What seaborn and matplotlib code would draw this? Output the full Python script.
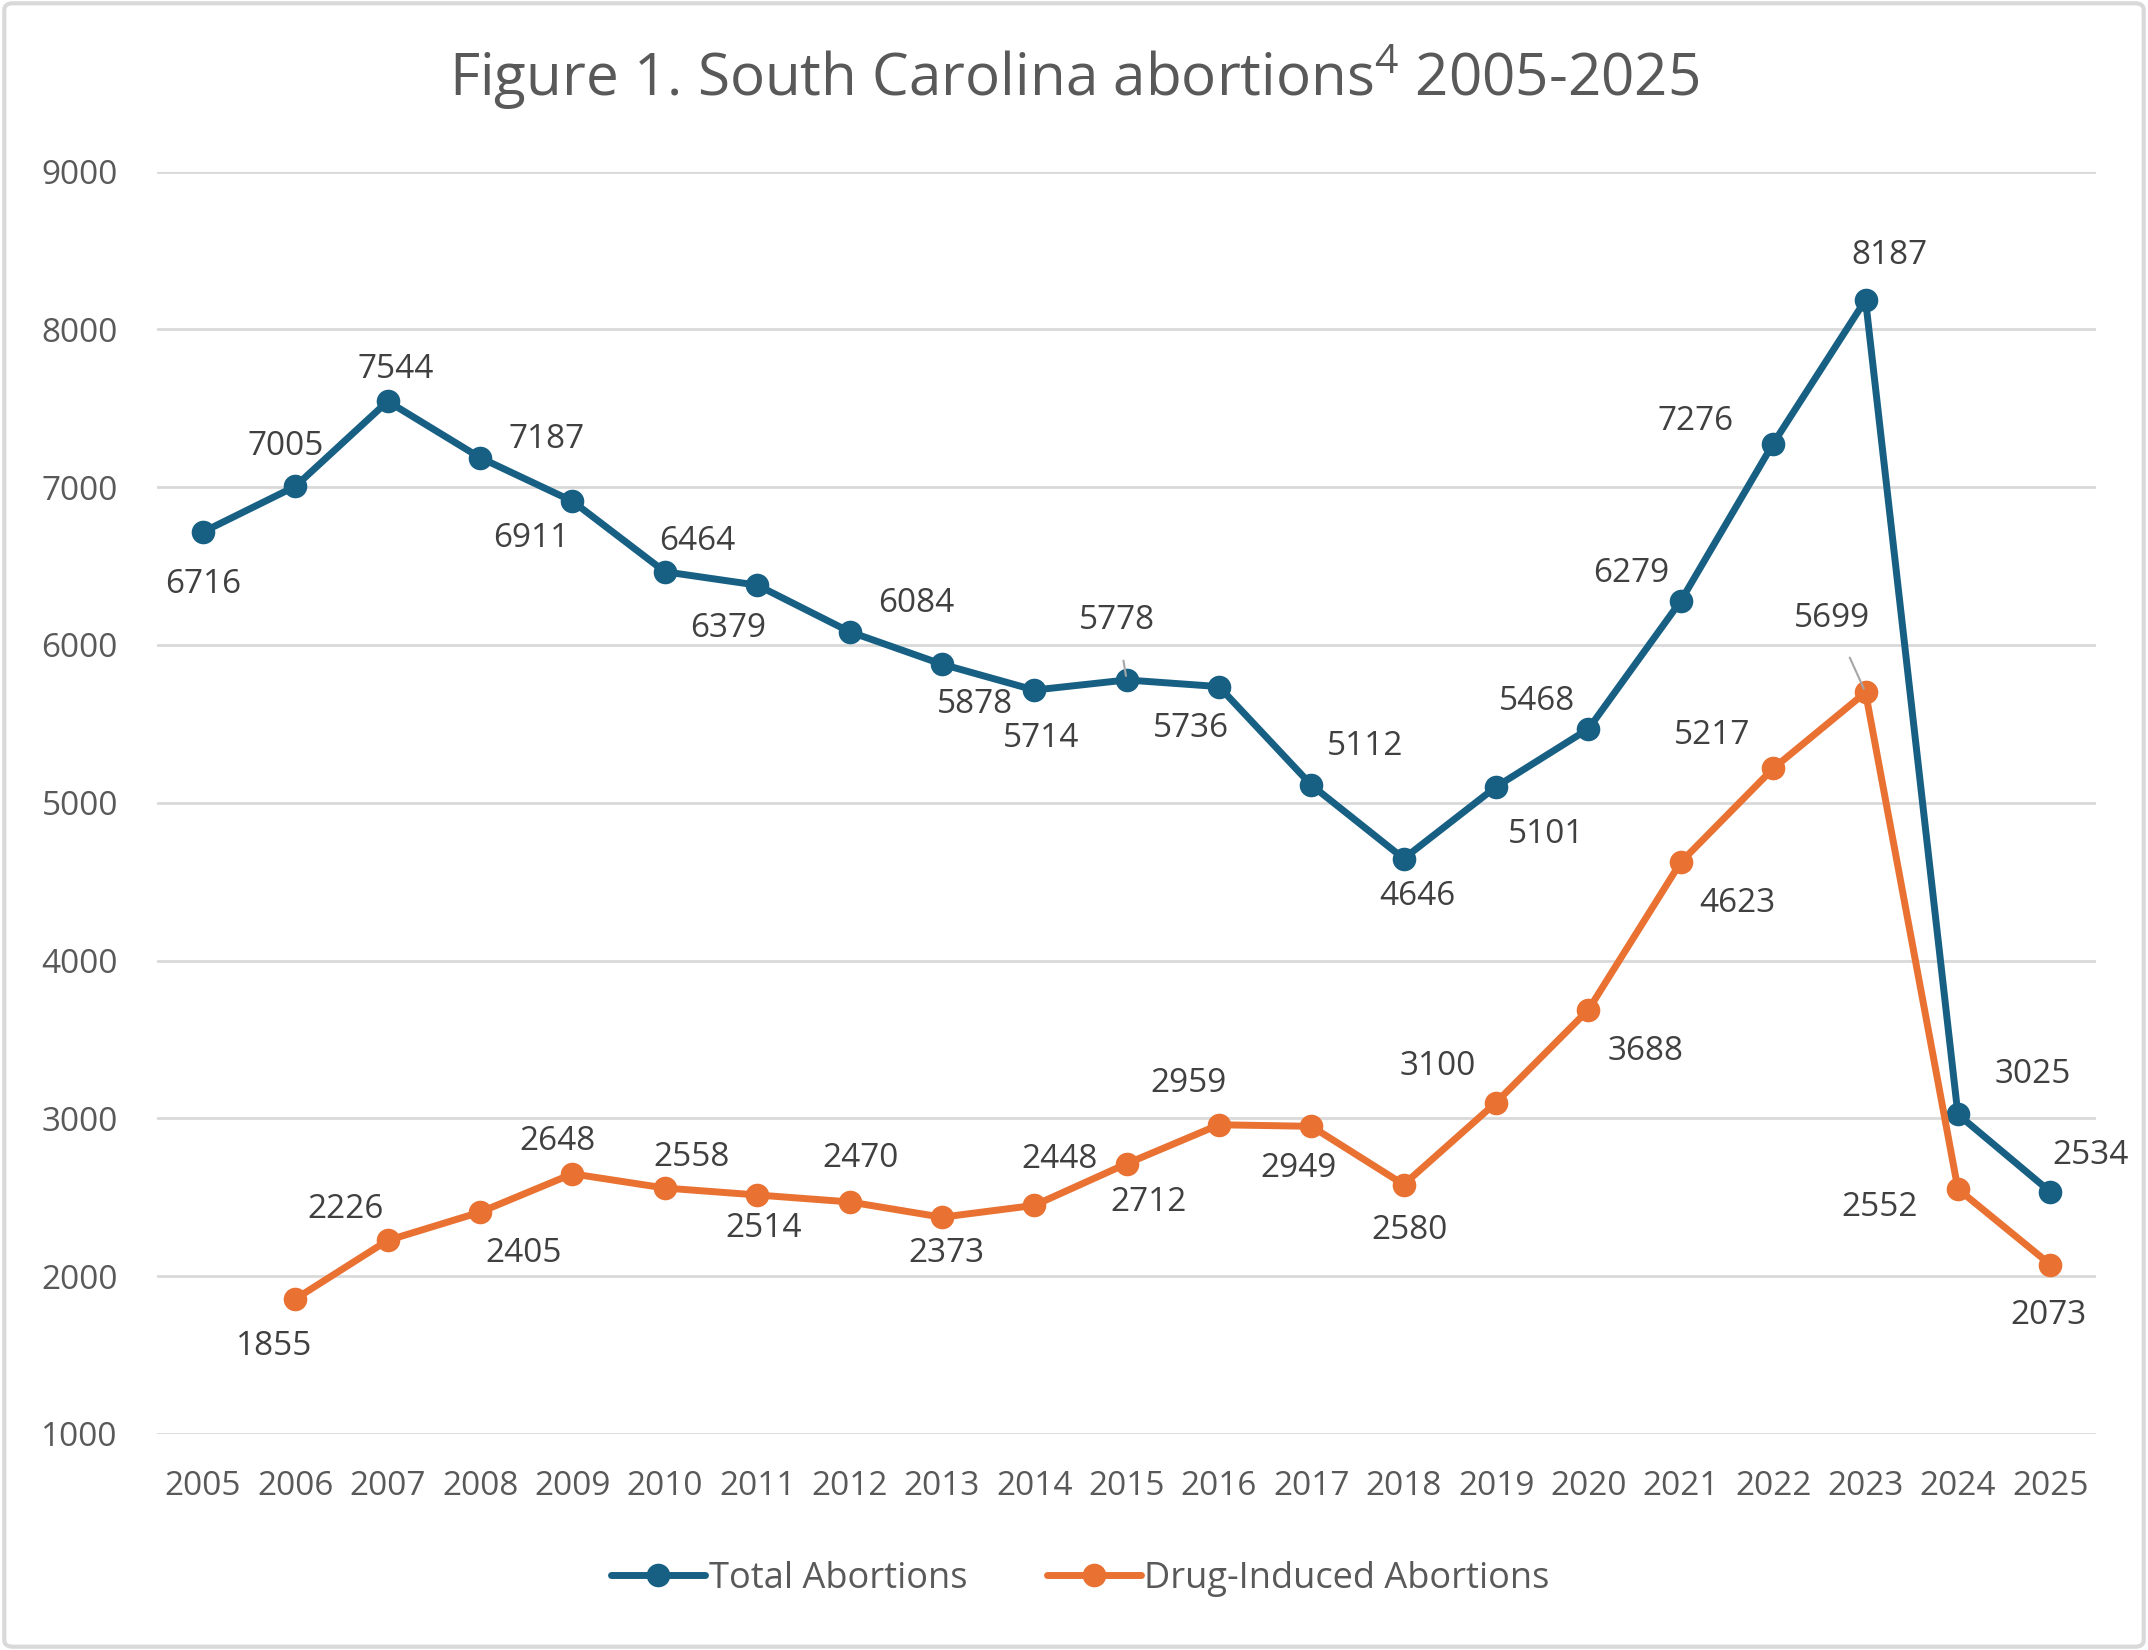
import numpy as np
import pandas as pd
import seaborn as sns
from matplotlib import pyplot as plt
from matplotlib.patches import FancyBboxPatch

# data
years = list(range(2005, 2026))
total = [6716, 7005, 7544, 7187, 6911, 6464, 6379, 6084, 5878, 5714, 5778,
         5736, 5112, 4646, 5101, 5468, 6279, 7276, 8187, 3025, 2534]
drug = [np.nan, 1855, 2226, 2405, 2648, 2558, 2514, 2470, 2373, 2448, 2712,
        2959, 2949, 2580, 3100, 3688, 4623, 5217, 5699, 2552, 2073]
series_names = ["Total Abortions", "Drug-Induced Abortions"]
y_ticks = [1000, 2000, 3000, 4000, 5000, 6000, 7000, 8000, 9000]

# label offsets (points) for each data label
total_off = [(0, -38), (-7, 29), (6, 23), (48, 13), (-30, -27), (23, 22), (-21, -31),
             (48, 20), (24, -29), (5, -35), (-7, 43), (-20, -30), (39, 28), (10, -27),
             (36, -34), (-37, 20), (-36, 20), (-56, 16), (17, 32), (54, 29), (29, 26)]
drug_off = [None, (-15, -34), (-30, 22), (31, -30), (-11, 23), (19, 22), (5, -24),
            (8, 31), (3, -26), (18, 33), (16, -28), (-22, 30), (-9, -30), (4, -33),
            (-42, 26), (41, -30), (41, -30), (-44, 24), (-24, 53), (-56, -13), (-1, -37)]
leaders = {("Total Abortions", 2015), ("Drug-Induced Abortions", 2023)}

BLUE = "#176084"
ORANGE = "#E97132"
TXT = "#595959"

sns.set_theme(style="white")
plt.rcParams['font.family'] = ['Open Sans', 'DejaVu Sans']
plt.rcParams['mathtext.default'] = 'regular'

df = pd.DataFrame({
    "year": years * 2,
    "value": total + drug,
    "series": [series_names[0]] * len(years) + [series_names[1]] * len(years),
}).dropna()

fig = plt.figure(figsize=(21.48, 16.5), dpi=100)
ax = fig.add_axes([0.073, 0.131, 0.903, 0.765])

sns.lineplot(data=df, x="year", y="value", hue="series", palette=[BLUE, ORANGE],
             marker="o", markersize=17, linewidth=5, markeredgewidth=0,
             ax=ax, legend=True)

ax.set_xlim(2004.5, 2025.5)
ax.set_ylim(1000, 9000)
ax.set_yticks(y_ticks)
ax.set_xticks(years)
ax.set_xticklabels([str(y) for y in years])
ax.tick_params(axis="both", length=0, labelsize=24, labelcolor=TXT)
ax.tick_params(axis="y", pad=28)
ax.tick_params(axis="x", pad=26)
ax.grid(axis="y", color="#D9D9D9", linewidth=2)
ax.set_axisbelow(True)
for s in ax.spines.values():
    s.set_visible(False)
ax.set_xlabel("")
ax.set_ylabel("")

for name, vals, offs in [(series_names[0], total, total_off), (series_names[1], drug, drug_off)]:
    for yr, v, off in zip(years, vals, offs):
        if off is None or np.isnan(v):
            continue
        kw = {}
        if (name, yr) in leaders:
            kw["arrowprops"] = dict(arrowstyle="-", color="#A6A6A6", lw=1.5,
                                    shrinkA=15, shrinkB=3)
        ax.annotate(str(int(v)), (yr, v), xytext=off, textcoords="offset points",
                    ha="center", va="center", fontsize=24, color="#404040", **kw)

fig.text(0.5, 0.953, "Figure 1. South Carolina abortions$^{4}$ 2005-2025",
         ha="center", va="center", fontsize=42, color=TXT)

# legend centred on the figure, not the axes
handles, labels = ax.get_legend_handles_labels()
ax.get_legend().remove()
fig.legend(handles, labels, loc="center", bbox_to_anchor=(0.503, 0.043), ncol=2,
           frameon=False, fontsize=26, labelcolor=TXT, handlelength=2.6,
           handletextpad=0.1, columnspacing=2.2)

fig.add_artist(FancyBboxPatch((0.002, 0.002), 0.996, 0.996, boxstyle="round,pad=0,rounding_size=0.004",
                              transform=fig.transFigure, fill=False,
                              edgecolor="#D9D9D9", linewidth=3))

fig.savefig("out.png", dpi=100, facecolor="white")
